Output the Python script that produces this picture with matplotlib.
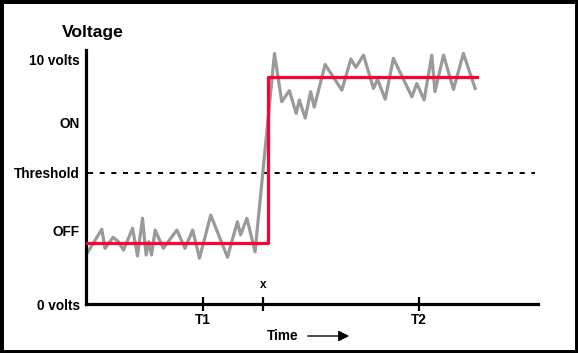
import matplotlib.pyplot as plt
from matplotlib.patches import Rectangle

## Data ##
# time in arbitrary units (0..100 across axis), voltage in volts
signal_time = [0, 3.5, 4.2, 6.0, 7.2, 8.3, 10.3, 11.4, 12.5, 13.3, 13.9, 14.5, 15.3, 17.1,
               20.1, 21.9, 23.6, 25.1, 27.6, 31.3, 33.5, 34.2, 35.6, 37.4, 41.7, 43.3,
               45.0, 46.5, 47.2, 48.5, 49.7, 50.5, 52.9, 56.6, 58.6, 59.7, 61.4, 63.6,
               64.5, 66.2, 68.0, 72.1, 73.2, 74.8, 76.5, 77.2, 79.1, 81.3, 83.5, 86.1]
signal_volts = [2.0, 3.05, 2.27, 2.72, 2.54, 2.2, 3.09, 1.96, 3.5, 2.0, 2.54, 2.0, 3.02, 2.27,
                3.02, 2.27, 3.02, 1.87, 3.63, 1.91, 3.36, 2.82, 3.5, 2.13, 10.23, 8.26,
                8.71, 7.78, 8.33, 7.59, 8.67, 8.04, 9.78, 8.73, 10.0, 9.66, 10.16, 8.8,
                9.17, 8.36, 10.03, 8.46, 9.0, 8.33, 10.16, 8.67, 10.16, 8.76, 10.23, 8.8]

ideal_time = [0, 40.3, 40.3, 86.5]
ideal_volts = [2.5, 2.5, 9.27, 9.27]

threshold = 5.35
y_ticks = [0, 3.0, threshold, 7.43, 10]
y_labels = ['0 volts', 'OFF', 'Threshold', 'ON', '10 volts']
x_ticks = [25.9, 39.2, 73.7]
x_labels = ['T1', '', 'T2']

plt.rcParams['font.family'] = ['Liberation Sans', 'DejaVu Sans']
plt.rcParams['font.weight'] = 'bold'

fig = plt.figure(figsize=(5.78, 3.53), dpi=100)
ax = fig.add_axes([86 / 578, 49 / 353, 452 / 578, 254 / 353])

ax.plot(signal_time, signal_volts, color='#9a9a9a', lw=2.3, zorder=2)
ax.plot(ideal_time, ideal_volts, color='#ff0033', lw=2.3, zorder=3)
ax.plot([0.4, 99.4], [threshold, threshold], color='black', lw=1.4,
        dashes=(2.6, 3.4), zorder=1)

ax.set_xlim(0, 100)
ax.set_ylim(0, 10.37)

for s in ['top', 'right']:
    ax.spines[s].set_visible(False)
ax.spines['left'].set_linewidth(2.3)
ax.spines['bottom'].set_linewidth(2.3)

ax.set_yticks(y_ticks)
ax.set_yticklabels(y_labels, fontsize=9.8, fontweight='bold')
ax.tick_params(axis='y', length=0, pad=4.5)
ax.set_xticks(x_ticks)
ax.set_xticklabels(x_labels, fontsize=9.8, fontweight='bold')
ax.tick_params(axis='x', direction='inout', length=10, width=1.6, pad=1.5)

ax.text(39.2, 0.55, 'x', ha='center', va='bottom', fontsize=8.5, fontweight='bold')
fig.text(62 / 578, 1 - 33 / 353, 'Voltage', ha='left', va='center',
         fontsize=12.6, fontweight='bold')
fig.text(267 / 578, 1 - 336 / 353, 'Time', ha='left', va='center',
         fontsize=9.8, fontweight='bold')
ax.annotate('', xy=(352 / 578, 1 - 336 / 353), xytext=(305 / 578, 1 - 336 / 353),
            xycoords='figure fraction', textcoords='figure fraction',
            arrowprops=dict(arrowstyle='-|>', color='black', lw=1.0,
                            mutation_scale=16))

fig.patches.append(Rectangle((0, 0), 1, 1, transform=fig.transFigure, fill=False,
                             edgecolor='black', lw=5))

fig.savefig('out.png', dpi=100)
